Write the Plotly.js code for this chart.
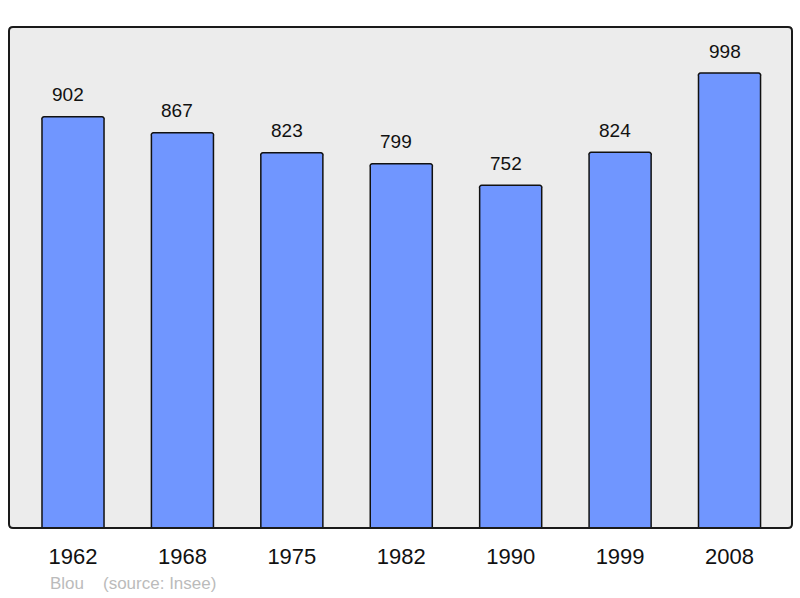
<!DOCTYPE html>
<html>
<head>
<meta charset="utf-8">
<script src="https://cdn.plot.ly/plotly-3.0.1.min.js"></script>
<style>html,body{margin:0;padding:0;background:#fff;}#chart{width:800px;height:598px;}</style>
</head>
<body>
<div id="chart"></div>
<script>
const years = ["1962", "1968", "1975", "1982", "1990", "1999", "2008"];
const population = [902, 867, 823, 799, 752, 824, 998];
const commune = "Blou";
const sourceText = "(source: Insee)";

const W = 800, H = 598;
const mL = 9, mR = 8, mT = 27, mB = 70;
const pw = W - mL - mR, ph = H - mT - mB;
const rx = 4 / pw, ry = 4 / ph;

function roundedRectPath(x0, y0, x1, y1) {
  return `M ${x0 + rx} ${y0} L ${x1 - rx} ${y0} Q ${x1} ${y0} ${x1} ${y0 + ry} ` +
         `L ${x1} ${y1 - ry} Q ${x1} ${y1} ${x1 - rx} ${y1} L ${x0 + rx} ${y1} ` +
         `Q ${x0} ${y1} ${x0} ${y1 - ry} L ${x0} ${y0 + ry} Q ${x0} ${y0} ${x0 + rx} ${y0} Z`;
}

const trace = {
  type: "bar",
  x: years,
  y: population,
  width: 0.567,
  marker: {
    color: "#7096ff",
    line: { color: "#111111", width: 1.5 },
    cornerradius: 3
  },
  hoverinfo: "none"
};

const valueAnnotations = years.map((yr, i) => ({
  x: i, y: population[i], xref: "x", yref: "y",
  text: String(population[i]), showarrow: false,
  yanchor: "middle", yshift: 22, xshift: -5,
  font: { family: "Liberation Sans, Arial, sans-serif", size: 19, color: "#111" }
}));

const layout = {
  width: W, height: H,
  margin: { l: mL, r: mR, t: mT, b: mB, pad: 0 },
  paper_bgcolor: "#ffffff",
  plot_bgcolor: "#ececec",
  showlegend: false,
  bargap: 0,
  xaxis: {
    type: "category",
    range: [-0.585, 6.571],
    showgrid: false, zeroline: false, showline: false,
    ticks: "", ticklabelstandoff: 13,
    tickfont: { family: "Liberation Sans, Arial, sans-serif", size: 22, color: "#111" },
    fixedrange: true
  },
  yaxis: {
    range: [0, 1099],
    showgrid: false, zeroline: false, showline: false,
    showticklabels: false, ticks: "",
    fixedrange: true
  },
  shapes: [{
    type: "path", xref: "paper", yref: "paper",
    path: roundedRectPath(0, 0, 1, 1),
    line: { color: "#1a1a1a", width: 2 },
    fillcolor: "rgba(0,0,0,0)",
    layer: "above"
  }],
  annotations: valueAnnotations.concat([
    {
      xref: "paper", yref: "paper", x: (48 - mL) / pw, y: -(583 - mT - ph) / ph,
      xanchor: "left", yanchor: "middle", showarrow: false,
      text: commune,
      font: { family: "Liberation Sans, Arial, sans-serif", size: 17, color: "#bbbbbb" }
    },
    {
      xref: "paper", yref: "paper", x: (101 - mL) / pw, y: -(583 - mT - ph) / ph,
      xanchor: "left", yanchor: "middle", showarrow: false,
      text: sourceText,
      font: { family: "Liberation Sans, Arial, sans-serif", size: 17, color: "#bbbbbb" }
    }
  ])
};

Plotly.newPlot("chart", [trace], layout, { displayModeBar: false, staticPlot: true });
</script>
</body>
</html>
